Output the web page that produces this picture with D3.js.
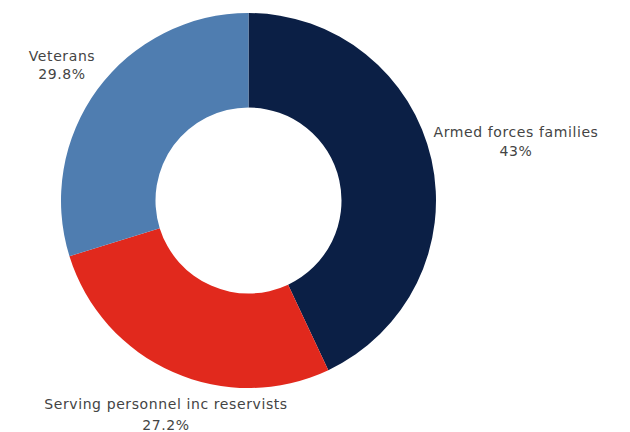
<!DOCTYPE html>
<html>
<head>
<meta charset="utf-8">
<script src="https://cdn.jsdelivr.net/npm/d3@7"></script>
<style>
  html, body { margin: 0; padding: 0; background: #ffffff; }
  svg { display: block; }
</style>
</head>
<body>
<svg id="chart" width="630" height="432"></svg>
<script>
const categories = ["Armed forces families", "Serving personnel inc reservists", "Veterans"];
const values = [43, 27.2, 29.8];
const valueLabels = ["43%", "27.2%", "29.8%"];
const colors = ["#0b1f45", "#e1291d", "#4f7db0"];

const svg = d3.select("#chart");
const cx = 248.5, cy = 200.5;
const outerR = 187.5, innerR = 93;

const data = categories.map((c, i) => ({ name: c, value: values[i], label: valueLabels[i], color: colors[i] }));

const pie = d3.pie().value(d => d.value).sort(null);
const arc = d3.arc().innerRadius(innerR).outerRadius(outerR);

const g = svg.append("g").attr("transform", `translate(${cx},${cy})`);
g.selectAll("path")
  .data(pie(data))
  .join("path")
  .attr("d", arc)
  .attr("fill", d => d.data.color);

// label positions (outside the ring)
const labelPos = [
  { x: 516, y1: 137, y2: 156 },
  { x: 166, y1: 409, y2: 430 },
  { x: 62, y1: 61, y2: 79 }
];

const lg = svg.append("g")
  .attr("font-family", "DejaVu Sans, sans-serif")
  .attr("font-size", 14)
  .attr("letter-spacing", 0.6)
  .attr("fill", "#444444")
  .attr("text-anchor", "middle");

data.forEach((d, i) => {
  lg.append("text").attr("x", labelPos[i].x).attr("y", labelPos[i].y1).text(d.name);
  lg.append("text").attr("x", labelPos[i].x).attr("y", labelPos[i].y2).text(d.label);
});
</script>
</body>
</html>
